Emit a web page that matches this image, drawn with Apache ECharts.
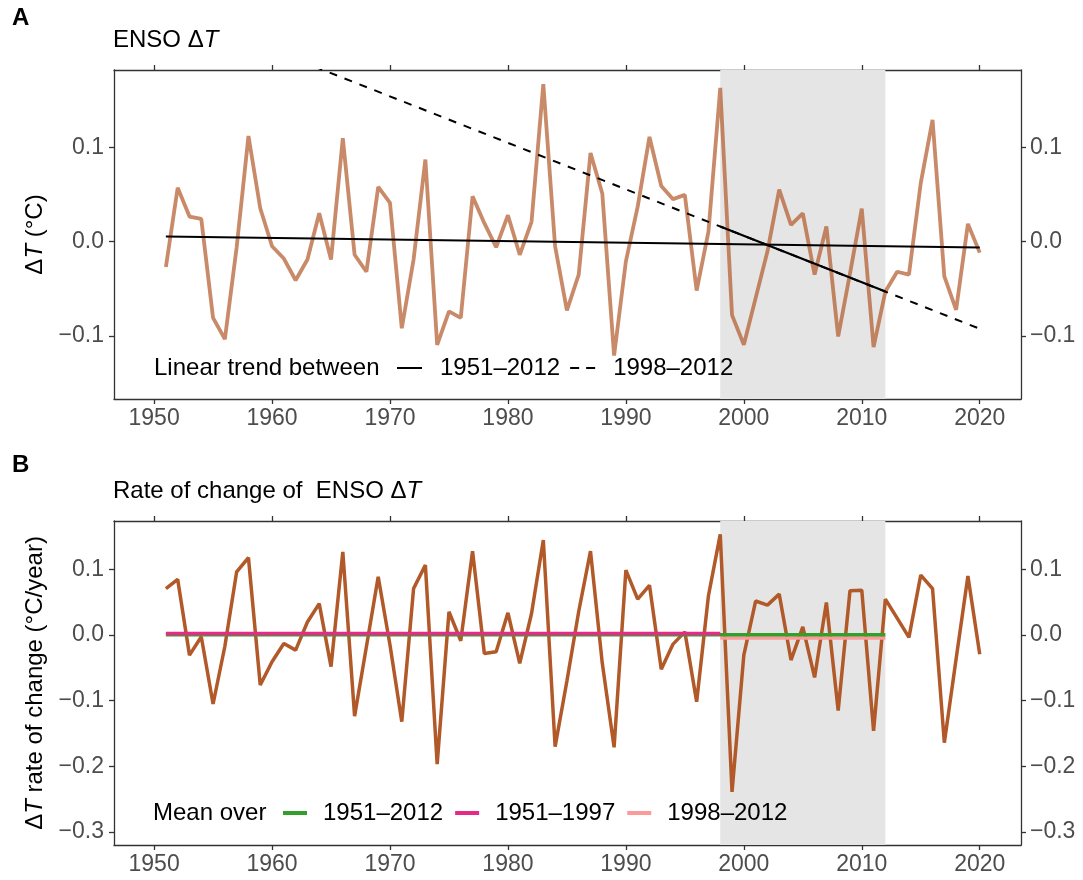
<!DOCTYPE html>
<html><head><meta charset="utf-8">
<script src="https://cdn.jsdelivr.net/npm/echarts@6/dist/echarts.min.js"></script>
<style>html,body{margin:0;padding:0;background:#fff}#c{width:1083px;height:880px}</style>
</head><body><div id="c"></div>
<script>
const years = [1951,1952,1953,1954,1955,1956,1957,1958,1959,1960,
  1961,1962,1963,1964,1965,1966,1967,1968,1969,1970,
  1971,1972,1973,1974,1975,1976,1977,1978,1979,1980,
  1981,1982,1983,1984,1985,1986,1987,1988,1989,1990,
  1991,1992,1993,1994,1995,1996,1997,1998,1999,2000,
  2001,2002,2003,2004,2005,2006,2007,2008,2009,2010,
  2011,2012,2013,2014,2015,2016,2017,2018,2019,2020];
const ensoDT = [-0.027,0.057,0.0265,0.024,-0.081,-0.1035,-0.006,0.112,0.0354,-0.005,
  -0.018,-0.041,-0.019,0.030,-0.019,0.1096,-0.014,-0.032,0.058,0.041,
  -0.092,-0.019,0.087,-0.1095,-0.074,-0.081,0.048,0.0195,-0.006,0.028,
  -0.014,0.021,0.167,-0.005,-0.073,-0.035,0.094,0.051,-0.121,-0.021,
  0.037,0.111,0.059,0.045,0.0495,-0.052,0.0106,0.163,-0.078,-0.1095,
  -0.060,-0.0106,0.055,0.0177,0.030,-0.035,0.016,-0.1007,-0.034,0.035,
  -0.112,-0.053,-0.032,-0.035,0.062,0.129,-0.037,-0.0724,0.0188,-0.0117];
const rateDT = [0.071,0.085,-0.0305,-0.0025,-0.105,-0.017,0.0965,0.118,-0.076,-0.0406,
  -0.0127,-0.0229,0.020,0.048,-0.048,0.127,-0.1235,-0.0178,0.089,-0.015,
  -0.132,0.071,0.1067,-0.1966,0.0356,-0.0086,0.128,-0.028,-0.0254,0.034,
  -0.043,0.033,0.145,-0.170,-0.070,0.036,0.128,-0.043,-0.171,0.099,
  0.055,0.076,-0.052,-0.0137,0.005,-0.1016,0.060,0.1535,-0.239,-0.0305,
  0.052,0.0457,0.0625,-0.038,0.0127,-0.0645,0.0498,-0.115,0.0676,0.0686,
  -0.146,0.0550,0.026,-0.0035,0.0915,0.071,-0.164,-0.036,0.090,-0.029];
const trend1951to2012 = [[1951,0.0053],[2020,-0.0064]];
const trend1998to2012Ext = [[1951,0.2477],[2020,-0.0925]];
const trend1998to2012Fit = [[1998,0.016],[2012,-0.053]];
const mean1951to2012 = [[1951,0.0007],[2012,0.0007]];
const mean1951to1997 = [[1951,0.0023],[1998,0.0023]];
const mean1998to2012 = [[1998,-0.0042],[2012,-0.0042]];
const shadeSpan = [1998, 2012];
const xTicks = [1950,1960,1970,1980,1990,2000,2010,2020];
const yTicksA = [-0.1,0.0,0.1];
const yTicksB = [-0.3,-0.2,-0.1,0.0,0.1];

const FONT = 'Liberation Sans, Arial, Helvetica, sans-serif';
const AX = '#333333', LAB = '#4D4D4D';
const fmtY = v => (v < -1e-9 ? '\u2212' : '') + Math.abs(v).toFixed(1);

function xAx(grid, pos, labels) {
  return {
    type: 'value', gridIndex: grid, position: pos, min: 1946.6, max: 2023.5,
    axisLine: {show: true, onZero: false, lineStyle: {color: AX, width: 1.3}},
    axisTick: {show: true, length: 5, customValues: xTicks, lineStyle: {color: AX, width: 1.3}},
    axisLabel: {show: labels, customValues: xTicks, formatter: v => String(Math.round(v)),
      fontSize: 23, color: LAB, fontFamily: FONT, margin: 8},
    splitLine: {show: false}
  };
}
function yAx(grid, pos, min, max, ticks, name, gap) {
  const a = {
    type: 'value', gridIndex: grid, position: pos, min: min, max: max,
    axisLine: {show: true, onZero: false, lineStyle: {color: AX, width: 1.3}},
    axisTick: {show: true, length: 5, customValues: ticks, lineStyle: {color: AX, width: 1.3}},
    axisLabel: {show: true, customValues: ticks, formatter: fmtY, fontSize: 23, color: LAB, fontFamily: FONT, margin: pos === 'left' ? 10 : 9},
    splitLine: {show: false}
  };
  if (name) {
    a.name = name; a.nameLocation = 'middle'; a.nameGap = gap;
    a.nameTextStyle = {fontSize: 24, color: '#000', fontFamily: FONT,
      rich: {i: {fontSize: 24, fontStyle: 'italic', color: '#000', fontFamily: FONT}}};
  }
  return a;
}

const chart = echarts.init(document.getElementById('c'), null, {renderer: 'canvas'});
const brown = '#B15928';
const dashIcon = 'path://M0,0h9v2h-9z M16,0h9v2h-9z';
chart.setOption({
  animation: false,
  backgroundColor: '#fff',
  textStyle: {fontFamily: FONT},
  title: [
    {text: 'A', left: 12, top: 6, padding: 0, textStyle: {fontSize: 24, fontWeight: 'bold', color: '#000', fontFamily: FONT}},
    {text: 'ENSO \u0394{i|T}', left: 113, top: 28, padding: 0,
      textStyle: {fontSize: 24, fontWeight: 'normal', color: '#000', fontFamily: FONT,
        rich: {i: {fontSize: 24, fontStyle: 'italic', color: '#000', fontFamily: FONT}}}},
    {text: 'B', left: 12, top: 453, padding: 0, textStyle: {fontSize: 24, fontWeight: 'bold', color: '#000', fontFamily: FONT}},
    {text: 'Rate of change of  ENSO \u0394{i|T}', left: 113, top: 479, padding: 0,
      textStyle: {fontSize: 24, fontWeight: 'normal', color: '#000', fontFamily: FONT,
        rich: {i: {fontSize: 24, fontStyle: 'italic', color: '#000', fontFamily: FONT}}}}
  ],
  grid: [
    {left: 114, top: 70, right: 62, height: 329},
    {left: 114, top: 521, right: 62, height: 324}
  ],
  xAxis: [xAx(0, 'bottom', true), xAx(0, 'top', false), xAx(1, 'bottom', true), xAx(1, 'top', false)],
  yAxis: [
    yAx(0, 'left', -0.167, 0.182, yTicksA, '\u0394{i|T} (\u00B0C)', 52),
    yAx(0, 'right', -0.167, 0.182, yTicksA, null),
    yAx(1, 'left', -0.32, 0.174, yTicksB, '\u0394{i|T} rate of change (\u00B0C/year)', 54),
    yAx(1, 'right', -0.32, 0.174, yTicksB, null)
  ],
  legend: [
    {left: 397, top: 356, itemWidth: 25, itemHeight: 2, itemGap: 10, padding: 0, selectedMode: false,
      icon: 'rect',
      data: [{name: 'A|1951\u20132012'}, {name: 'A|1998\u20132012', icon: dashIcon}],
      formatter: n => n.split('|')[1],
      textStyle: {fontSize: 24, color: '#000', fontFamily: FONT, padding: [0, 0, 0, 13]}},
    {left: 283, top: 801, itemWidth: 24, itemHeight: 4, itemGap: 12, padding: 0, selectedMode: false,
      icon: 'rect',
      data: ['B|1951\u20132012', 'B|1951\u20131997', 'B|1998\u20132012'],
      formatter: n => n.split('|')[1],
      textStyle: {fontSize: 24, color: '#000', fontFamily: FONT, padding: [0, 0, 0, 11]}}
  ],
  graphic: [
    {type: 'text', left: 154, top: 356, style: {text: 'Linear trend between', fontSize: 24, fill: '#000', fontFamily: FONT}},
    {type: 'text', left: 153, top: 801, style: {text: 'Mean over', fontSize: 24, fill: '#000', fontFamily: FONT}}
  ],
  series: [
    {type: 'line', name: 'shadeA', xAxisIndex: 0, yAxisIndex: 0, data: [], z: 0, silent: true,
      markArea: {silent: true, itemStyle: {color: '#E5E5E5'}, data: [[{xAxis: shadeSpan[0]}, {xAxis: shadeSpan[1]}]]}},
    {type: 'line', name: 'shadeB', xAxisIndex: 2, yAxisIndex: 2, data: [], z: 0, silent: true,
      markArea: {silent: true, itemStyle: {color: '#E5E5E5'}, data: [[{xAxis: shadeSpan[0]}, {xAxis: shadeSpan[1]}]]}},
    {type: 'line', name: 'ENSO dT', xAxisIndex: 0, yAxisIndex: 0, z: 2,
      data: years.map((y, i) => [y, ensoDT[i]]), symbol: 'none',
      lineStyle: {color: brown, width: 3.8, opacity: 0.7}},
    {type: 'line', name: 'A|1951\u20132012', xAxisIndex: 0, yAxisIndex: 0, z: 3,
      data: trend1951to2012, symbol: 'none', itemStyle: {color: '#000'},
      lineStyle: {color: '#000', width: 2}},
    {type: 'line', name: 'A|1998\u20132012', xAxisIndex: 0, yAxisIndex: 0, z: 3, clip: true,
      data: trend1998to2012Ext, symbol: 'none', itemStyle: {color: '#000'},
      lineStyle: {color: '#000', width: 2, type: [8, 8]}},
    {type: 'line', name: 'fit 1998-2012', xAxisIndex: 0, yAxisIndex: 0, z: 4,
      data: trend1998to2012Fit, symbol: 'none',
      lineStyle: {color: '#000', width: 2.2}},
    {type: 'line', name: 'rate', xAxisIndex: 2, yAxisIndex: 2, z: 2,
      data: years.map((y, i) => [y, rateDT[i]]), symbol: 'none',
      lineStyle: {color: brown, width: 3.5}},
    {type: 'line', name: 'B|1998\u20132012', xAxisIndex: 2, yAxisIndex: 2, z: 3,
      data: mean1998to2012, symbol: 'none', itemStyle: {color: '#FB9A99'},
      lineStyle: {color: '#FB9A99', width: 3.5}},
    {type: 'line', name: 'B|1951\u20132012', xAxisIndex: 2, yAxisIndex: 2, z: 4,
      data: mean1951to2012, symbol: 'none', itemStyle: {color: '#33A02C'},
      lineStyle: {color: '#33A02C', width: 3.5}},
    {type: 'line', name: 'B|1951\u20131997', xAxisIndex: 2, yAxisIndex: 2, z: 5,
      data: mean1951to1997, symbol: 'none', itemStyle: {color: '#E7298A'},
      lineStyle: {color: '#E7298A', width: 3.5}}
  ]
});
</script></body></html>
